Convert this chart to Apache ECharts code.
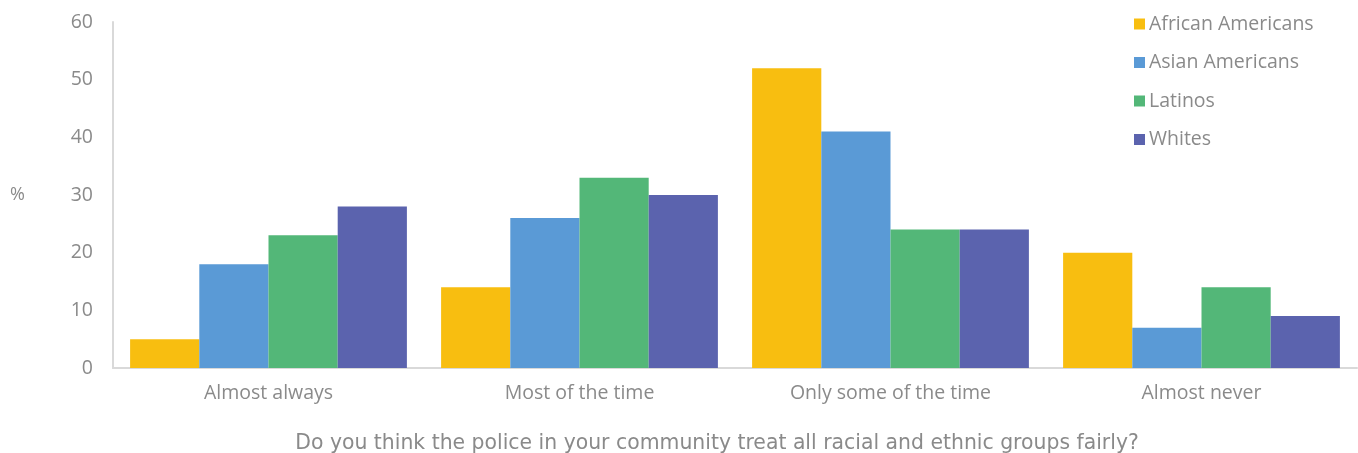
<!DOCTYPE html>
<html><head><meta charset="utf-8">
<script src="https://cdn.jsdelivr.net/npm/echarts@6/dist/echarts.min.js"></script>
<style>html,body{margin:0;padding:0;background:#fff}#c{width:1358px;height:453px}</style>
</head><body><div id="c"></div>
<script>
const categories = ['Almost always', 'Most of the time', 'Only some of the time', 'Almost never'];
const seriesNames = ['African Americans', 'Asian Americans', 'Latinos', 'Whites'];
const africanAmericans = [5, 14, 52, 20];
const asianAmericans = [18, 26, 41, 7];
const latinos = [23, 33, 24, 14];
const whites = [28, 30, 24, 9];
const yTicks = [0, 10, 20, 30, 40, 50, 60];
const xTitle = 'Do you think the police in your community treat all racial and ethnic groups fairly?';
const yTitle = '%';

const colors = ['#F8BE10', '#5A9AD6', '#53B778', '#5B63AE'];
const values = [africanAmericans, asianAmericans, latinos, whites];
const font = 'Open Sans';
const grey = '#8a8a8a';

const chart = echarts.init(document.getElementById('c'), null, {renderer: 'canvas'});
chart.setOption({
  animation: false,
  color: colors,
  grid: {left: 113, right: 1, top: 22, bottom: 85, containLabel: false, outerBoundsMode: 'none'},
  legend: {
    orient: 'vertical', left: 1129, top: 9,
    itemWidth: 11, itemHeight: 11, itemGap: 18.5,
    icon: 'rect',
    textStyle: {color: grey, fontSize: 19.5, fontFamily: font, padding: [0, 0, 0, -1]},
    data: seriesNames
  },
  xAxis: {
    type: 'category', data: categories,
    axisLine: {lineStyle: {color: '#d9d9d9', width: 2}},
    axisTick: {show: false},
    axisLabel: {color: grey, fontSize: 19.5, fontFamily: font, margin: 15},
    name: xTitle, nameLocation: 'middle', nameGap: 66,
    nameTextStyle: {color: grey, fontSize: 20.4, fontFamily: 'DejaVu Sans', padding: [0, 36, 0, 0]}
  },
  yAxis: {
    type: 'value', min: yTicks[0], max: yTicks[yTicks.length - 1], interval: 10,
    axisLine: {show: true, lineStyle: {color: '#d9d9d9', width: 2}},
    axisTick: {show: false},
    splitLine: {show: false},
    axisLabel: {color: grey, fontSize: 19.5, fontFamily: font, margin: 20},
    name: yTitle, nameLocation: 'middle', nameRotate: 0, nameGap: 88,
    nameTextStyle: {color: grey, fontSize: 18, fontFamily: font}
  },
  series: seriesNames.map((n, i) => ({
    name: n, type: 'bar', data: values[i],
    barGap: '0%', barCategoryGap: '11%'
  }))
});
</script></body></html>
